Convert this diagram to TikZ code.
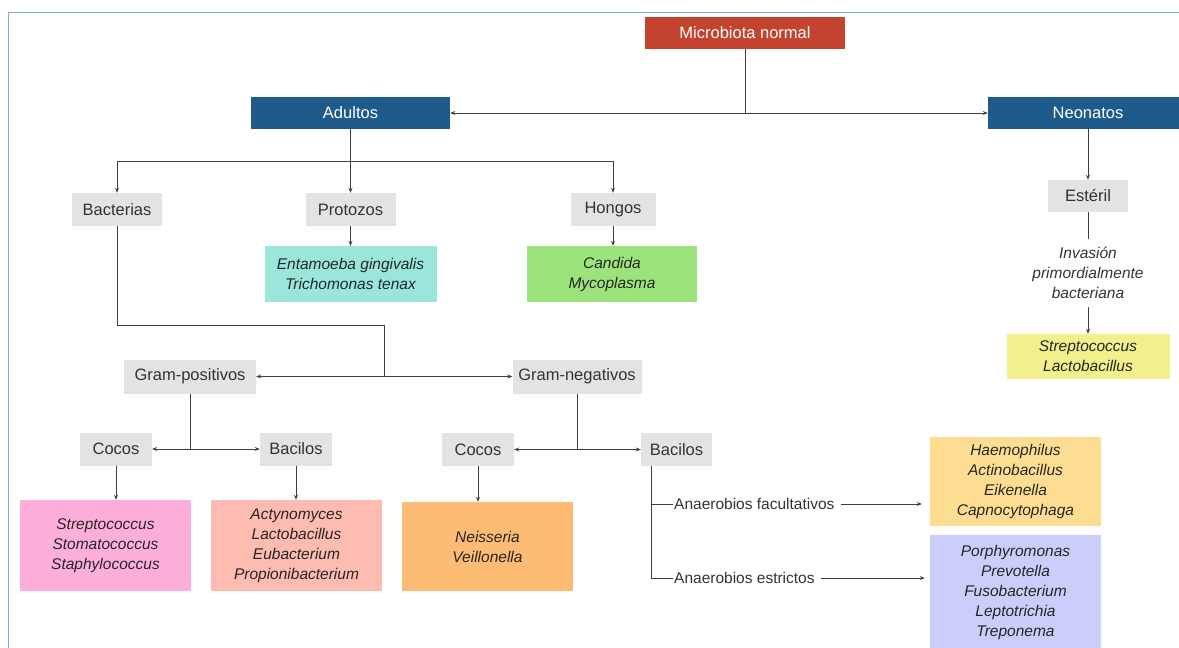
\documentclass[tikz,border=0pt]{standalone}
\usepackage{fontspec}
\setmainfont{Liberation Sans}
\usetikzlibrary{arrows.meta}

\definecolor{headred}{HTML}{C3432F}
\definecolor{headblue}{HTML}{1F5B8A}
\definecolor{boxgray}{HTML}{E3E3E3}
\definecolor{linegray}{HTML}{3F3F3F}
\definecolor{framec}{HTML}{86ABDB}
\definecolor{teal}{HTML}{9AE6DA}
\definecolor{leaf}{HTML}{9CE37C}
\definecolor{lemon}{HTML}{F1F08C}
\definecolor{rose}{HTML}{FDAFD9}
\definecolor{salmon}{HTML}{FDBBB2}
\definecolor{apricot}{HTML}{FDBB74}
\definecolor{sand}{HTML}{FDDD92}
\definecolor{lilac}{HTML}{CBCDFB}

\begin{document}
\begin{tikzpicture}[x=1pt,y=-1pt,
  head/.style={fill=#1, text=white, minimum height=32pt, minimum width=200pt,
    inner sep=0pt, font=\fontsize{16.5}{20}\selectfont},
  tag/.style={fill=boxgray, text=black!80, minimum height=33pt, inner sep=0pt,
    font=\fontsize{16.5}{20}\selectfont},
  genus/.style={fill=#1, text=black!85, minimum width=171pt, inner sep=0pt,
    align=center, font=\fontsize{15.5}{20}\selectfont\itshape},
  note/.style={text=black!80, inner sep=1pt, font=\fontsize{15.5}{20}\selectfont},
  link/.style={draw=linegray, line width=1pt},
  >={Stealth[length=5pt,width=4pt]}]
\useasboundingbox (0,0) rectangle (1179,648);

% Frame (only top and left edges show)
\draw[framec, line width=0.9pt] (8,648) -- (8,12) -- (1179,12);

% Top level
\node[head=headred] (micro) at (745,33) {Microbiota normal};
\node[head=headblue, minimum width=199pt] (adul) at (350.5,113) {Adultos};
\node[head=headblue] (neo) at (1088,113) {Neonatos};

\draw[link, <->] (adul.east) -- (neo.west);
\draw[link] (micro.south) -- (micro.south |- adul.east);

% Adultos
\node[tag, minimum width=90pt] (bact) at (117,209.5) {Bacterias};
\node[tag, minimum width=90pt] (prot) at (350.5,209.5) {Protozos};
\node[tag, minimum width=85pt] (hong) at (613,209.5) {Hongos};

\coordinate (aj) at (350.5,161);
\draw[link, ->] (adul.south) -- (prot.north);
\draw[link, ->] (aj) -| (bact.north);
\draw[link, ->] (aj) -| (hong.north);

\node[genus=teal, minimum width=172pt, minimum height=56pt] (enta) at (350.5,274)
  {Entamoeba gingivalis\\Trichomonas tenax};
\node[genus=leaf, minimum width=170pt, minimum height=56pt] (cand) at (612,274)
  {Candida\\Mycoplasma};
\draw[link, ->] (prot.south) -- (enta.north);
\draw[link, ->] (hong.south) -- (hong.south |- cand.north);

% Neonatos
\node[tag, minimum width=80pt, minimum height=32pt] (est) at (1088,196) {Estéril};
\node[note, align=center, font=\fontsize{15.5}{20}\selectfont\itshape] (inv) at (1088,273)
  {Invasión\\primordialmente\\bacteriana};
\node[genus=lemon, minimum width=163pt, minimum height=45pt] (strep) at (1088,356.5)
  {Streptococcus\\Lactobacillus};
\draw[link, ->] (neo.south) -- (est.north);
\draw[link, shorten >=7pt] (est.south) -- (inv.north);
\draw[link, ->, shorten <=7pt] (inv.south) -- (strep.north);

% Bacterias
\node[tag, minimum width=132pt, minimum height=34pt] (gpos) at (190,376.5) {Gram-positivos};
\node[tag, minimum width=129pt, minimum height=34pt] (gneg) at (577,376.5) {Gram-negativos};
\coordinate (bj) at (384,325);
\draw[link] (bact.south) |- (bj) -- (bj |- gpos.east);
\draw[link, <->] (gpos.east) -- (gneg.west);

% Gram-positivos
\node[tag, minimum width=72pt] (coc1) at (116,449) {Cocos};
\node[tag, minimum width=72pt] (bac1) at (296,449) {Bacilos};
\draw[link] (gpos.south) -- (gpos.south |- coc1.east);
\draw[link, <->] (coc1.east) -- (bac1.west);

\node[genus=rose, minimum height=91pt] (rose) at (105.5,545.5)
  {Streptococcus\\Stomatococcus\\Staphylococcus};
\node[genus=salmon, minimum height=91pt] (salm) at (296.5,545.5)
  {Actynomyces\\Lactobacillus\\Eubacterium\\Propionibacterium};
\draw[link, ->] (coc1.south) -- (coc1.south |- rose.north);
\draw[link, ->] (bac1.south) -- (bac1.south |- salm.north);

% Gram-negativos
\node[tag, minimum width=72pt] (coc2) at (478,449.5) {Cocos};
\node[tag, minimum width=71pt] (bac2) at (676.5,449.5) {Bacilos};
\draw[link] (gneg.south) -- (gneg.south |- coc2.east);
\draw[link, <->] (coc2.east) -- (bac2.west);

\node[genus=apricot, minimum height=89pt] (oran) at (487.5,546.5)
  {Neisseria\\Veillonella};
\draw[link, ->] (coc2.south) -- (coc2.south |- oran.north);

\node[note, anchor=west] (fac) at (673,504) {Anaerobios facultativos};
\node[note, anchor=west] (estr) at (673,578) {Anaerobios estrictos};
\draw[link] ([xshift=11pt]bac2.south west) |- (fac.west);
\draw[link] ([xshift=11pt]bac2.south west) |- (estr.west);

\node[genus=sand, minimum height=89pt] (haem) at (1015.5,481.5)
  {Haemophilus\\Actinobacillus\\Eikenella\\Capnocytophaga};
\node[genus=lilac, minimum height=114pt] (porph) at (1015.5,592)
  {Porphyromonas\\Prevotella\\Fusobacterium\\Leptotrichia\\Treponema};
\draw[link, ->] ([xshift=5pt]fac.east) -- ([xshift=-8pt]fac.east -| haem.west);
\draw[link, ->] ([xshift=5pt]estr.east) -- ([xshift=-5pt]estr.east -| porph.west);
\end{tikzpicture}
\end{document}
